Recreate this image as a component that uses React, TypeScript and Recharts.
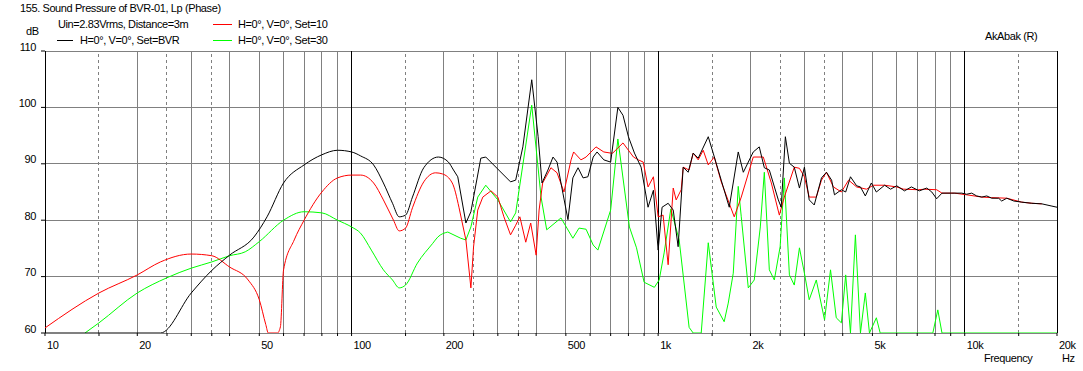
import React from 'react';
import { LineChart, Line, XAxis, YAxis, ReferenceLine } from 'recharts';

// [frequency Hz, level dB]
const bvrPoints: [number, number][] = [
  [10, 60], [23.8, 60], [30, 67.1], [35, 71.1], [40, 73.8], [48, 77], [53, 80.6], [60, 86.6], [70, 89.8],
  [80, 91.6], [90, 92.4], [100, 92.1], [107, 91.4], [118, 89.8], [127, 86.6], [136, 83], [143, 80.6],
  [150, 80.9], [158, 84.1], [172, 89.3], [192, 91.2], [207, 90.3], [215, 88.9], [222, 87.7], [236, 79.5],
  [245, 81.5], [264, 91], [274, 91.2], [330, 86.8], [343, 87.1], [362, 93], [387, 104.9], [406, 94.8],
  [418, 86.6], [437, 88.9], [454, 91.2], [468, 90.3], [489, 84.8], [508, 80.1], [527, 87.5], [548, 89.3],
  [569, 87.5], [590, 87.7], [614, 91.2], [632, 92.1], [665, 90.7], [700, 90.3], [739, 100], [768, 98.6],
  [800, 94.8], [837, 91.9], [880, 89.4], [927, 82.3], [965, 85.3], [1000, 74.7], [1030, 82.3], [1078, 83],
  [1120, 81.8], [1162, 75.3], [1207, 89.4], [1253, 88.5], [1301, 91.9], [1351, 91], [1457, 94.8],
  [1512, 91.9], [1606, 87.1], [1706, 82.3], [1825, 92.1], [1896, 88.5], [2043, 92.1], [2137, 93],
  [2220, 89.3], [2305, 88.9], [2466, 83.6], [2520, 82.3], [2600, 94.8], [2680, 90.1], [2780, 89.4],
  [2890, 85.7], [3000, 89.4], [3110, 83.6], [3230, 82.7], [3410, 87.5], [3540, 88.5], [3680, 87.1],
  [3760, 84.5], [3960, 85.4], [4090, 85], [4240, 87.7], [4440, 86.1], [4570, 85.9], [4740, 84.3],
  [4960, 86.6], [5150, 85], [5480, 86.2], [5730, 85.5], [6000, 86.1], [6360, 85.2], [6700, 85.9],
  [7110, 85.2], [7520, 85.7], [7810, 85], [8100, 83.8], [8430, 84.8], [9070, 84.8], [9780, 84.8],
  [10150, 84.6], [10540, 84.8], [10940, 84.3], [11370, 84.1], [11800, 84.3], [12250, 83.9], [12900, 83.9],
  [13200, 83.4], [13720, 83.9], [14460, 83.4], [15350, 83.2], [16550, 83], [17850, 82.9], [19250, 82.5],
  [20000, 82.3],
];

const set10Points: [number, number][] = [
  [10, 60.9], [15, 67.1], [20, 70.3], [23.8, 72.6], [30, 74], [35, 73.7], [40, 71.7], [46, 69.4], [50, 65.9],
  [52.5, 61.5], [53.5, 60], [57.3, 60], [58.6, 61.1], [60, 71.2], [65, 76.5], [70, 80], [80, 85], [90, 87.5],
  [100, 88], [107, 88], [118, 86.6], [127, 83.6], [137, 80], [143, 78.1], [150, 78.6], [158, 82.2],
  [172, 86.8], [188, 88.4], [198, 88.2], [213, 86.6], [224, 82.3], [236, 76.5], [243, 69.9], [245, 68],
  [250, 75.3], [258, 81.8], [268, 84.1], [285, 85.2], [300, 84.1], [314, 80.6], [330, 77.4], [343, 79.1],
  [354, 80.6], [370, 76.1], [384, 79.5], [400, 73.8], [409, 81.8], [420, 86.6], [447, 89.3], [468, 88.4],
  [493, 85], [520, 90.7], [530, 92.1], [560, 90.7], [582, 91.2], [627, 93], [665, 92.1], [700, 91.9],
  [711, 91.9], [739, 92.8], [768, 93.7], [831, 91.2], [862, 90.7], [894, 90.3], [927, 85.9], [965, 87.7],
  [1000, 80.6], [1038, 80.9], [1078, 72.1], [1120, 85.7], [1145, 83.6], [1189, 85.4], [1207, 89.4],
  [1262, 88.9], [1301, 91.9], [1351, 90.7], [1403, 92.4], [1457, 89.8], [1524, 91.2], [1606, 86.8],
  [1771, 80.6], [1867, 84.1], [2043, 91.2], [2203, 91.2], [2340, 86.6], [2485, 80.9], [2580, 84.1],
  [2780, 89.4], [2890, 89.2], [3000, 87.7], [3110, 84.1], [3280, 84.1], [3410, 87.1], [3540, 88.5],
  [3730, 85.9], [3960, 85], [4180, 87.1], [4440, 85.9], [4780, 85.5], [5040, 86.2], [5480, 86.2],
  [6000, 85.9], [6320, 85.5], [7070, 85.4], [7390, 85.5], [8100, 85.4], [8430, 84.8], [9270, 84.8],
  [10150, 84.5], [11370, 84.1], [12250, 84], [13720, 83.9], [15350, 83.2], [16550, 83], [17850, 82.9],
];

const set30Points: [number, number][] = [
  [13.5, 60], [15, 61.8], [20, 67.1], [25, 69.8], [30, 71.5], [35, 72.6], [40, 73.7], [45, 74.4], [50, 76.2],
  [60, 80], [70, 81.5], [80, 81.3], [90, 80], [100, 78.8], [107, 77.7], [116, 74.7], [127, 71.2], [136, 69.4],
  [143, 68], [150, 68.5], [164, 72.4], [184, 75.9], [191, 77], [206, 77.9], [227, 76.8], [236, 76.5],
  [245, 78.8], [258, 84.1], [274, 86.2], [300, 83.6], [330, 79.7], [343, 81.3], [387, 100.4], [415, 84.1],
  [433, 78.3], [482, 80.4], [527, 76.8], [552, 78.6], [582, 78.4], [614, 75.6], [636, 74.7], [700, 81.8],
  [739, 94.4], [806, 78.8], [850, 75.1], [900, 69], [972, 68.1], [1008, 69.4], [1046, 74.2], [1100, 82],
  [1171, 76.5], [1262, 61], [1301, 60], [1382, 60], [1457, 76], [1547, 64.6], [1642, 62], [1693, 65.3],
  [1758, 70.6], [1825, 86], [1867, 80.6], [1968, 68], [2058, 69.4], [2154, 78.8], [2220, 88.5], [2305, 71.2],
  [2393, 69.4], [2500, 75.3], [2580, 87.5], [2680, 70.3], [2780, 68.5], [2890, 75.1], [3000, 70.6],
  [3110, 65.9], [3280, 69.4], [3490, 62.3], [3650, 71.2], [3810, 62.7], [3960, 61.8], [4090, 70.3],
  [4240, 60], [4400, 77.4], [4570, 60], [4740, 67.1], [4890, 60], [5150, 62.7], [5300, 60], [7870, 60],
  [8170, 64.1], [8430, 60], [20000, 60],
];

const dbTicks = [60, 70, 80, 90, 100, 110];
const freqLabels: Record<number, string> = {
  10: '10', 20: '20', 50: '50', 100: '100', 200: '200', 500: '500',
  1000: '1k', 2000: '2k', 5000: '5k', 10000: '10k', 20000: '20k',
};

const toRows = (pts: [number, number][]) => pts.map(([f, db]) => ({ f, db }));

// smooth below the split, jagged above it (the original measurement is coarse up high)
const SPLIT = 225;
const lowPart = (pts: [number, number][]) => toRows(pts.filter((p) => p[0] <= SPLIT));
const highPart = (pts: [number, number][]) => {
  const i = pts.findIndex((p) => p[0] > SPLIT);
  return toRows(pts.slice(Math.max(0, i - 1)));
};

// grid frequencies
const decadeLines = [10, 100, 1000, 10000, 20000];
const solidLines: number[] = [];
const dashedLines: number[] = [];
[10, 100, 1000].forEach((d) => {
  [2, 3, 4, 5, 6, 7, 8, 9].forEach((m) => solidLines.push(d * m));
  [1.5, 2.5, 3.5].forEach((m) => dashedLines.push(d * m));
});
dashedLines.push(15000);
const allTicks = [...decadeLines, ...solidLines, ...dashedLines].sort((a, b) => a - b);

const series = [
  { name: 'set30', pts: set30Points, color: '#00ff00' },
  { name: 'set10', pts: set10Points, color: '#ff0000' },
  { name: 'bvr', pts: bvrPoints, color: '#000000' },
];

const FONT = '"Liberation Sans", Arial, sans-serif';
const txt: React.CSSProperties = {
  position: 'absolute', fontFamily: FONT, fontSize: 11, lineHeight: '13px',
  letterSpacing: '-0.4px', color: '#000', whiteSpace: 'nowrap',
};

const XTick = (props: any) => {
  const { x, payload } = props;
  const label = freqLabels[payload.value];
  if (!label) return null;
  return (
    <text x={x + 2} y={349} textAnchor="start" fontFamily={FONT} fontSize={11} letterSpacing="-0.4" fill="#000">
      {label}
    </text>
  );
};

const YTick = (props: any) => {
  const { y, payload } = props;
  return (
    <text x={36} y={y - 0.5} textAnchor="end" fontFamily={FONT} fontSize={11} letterSpacing="-0.4" fill="#000">
      {payload.value}
    </text>
  );
};

export default function App() {
  return (
    <div style={{ position: 'absolute', left: 0, top: 0, width: 1083, height: 371, background: '#fff' }}>
      <div style={{ ...txt, left: 20, top: 2 }}>155. Sound Pressure of BVR-01, Lp (Phase)</div>
      <div style={{ ...txt, left: 58, top: 18 }}>Uin=2.83Vrms, Distance=3m</div>
      <div style={{ position: 'absolute', left: 213, top: 24, width: 19, height: 1, background: '#ff0000' }} />
      <div style={{ ...txt, left: 238, top: 18 }}>H=0°, V=0°, Set=10</div>
      <div style={{ position: 'absolute', left: 57, top: 40, width: 16, height: 1, background: '#000' }} />
      <div style={{ ...txt, left: 80, top: 34 }}>H=0°, V=0°, Set=BVR</div>
      <div style={{ position: 'absolute', left: 213, top: 40, width: 19, height: 1, background: '#00ff00' }} />
      <div style={{ ...txt, left: 238, top: 34 }}>H=0°, V=0°, Set=30</div>
      <div style={{ ...txt, left: 26, top: 25 }}>dB</div>
      <div style={{ ...txt, left: 985, top: 30 }}>AkAbak (R)</div>
      <div style={{ ...txt, left: 984, top: 352 }}>Frequency</div>
      <div style={{ ...txt, left: 1062, top: 352 }}>Hz</div>

      <LineChart
        width={1083}
        height={371}
        margin={{ top: 51, right: 26, bottom: 0, left: 0 }}
        style={{ position: 'absolute', left: 0, top: 0 }}
      >
        <XAxis
          dataKey="f"
          type="number"
          scale="log"
          domain={[10, 20000]}
          ticks={allTicks}
          interval={0}
          height={38}
          axisLine={false}
          tickLine={{ stroke: '#000' }}
          tickSize={3}
          tick={<XTick />}
          allowDataOverflow
        />
        <YAxis
          dataKey="db"
          type="number"
          domain={[60, 110]}
          ticks={dbTicks}
          interval={0}
          width={45}
          axisLine={false}
          tickLine={{ stroke: '#000' }}
          tickSize={4}
          tick={<YTick />}
          allowDataOverflow
        />
        {dbTicks.map((v) => (
          <ReferenceLine key={'h' + v} y={v} stroke="#808080" strokeWidth={1} shapeRendering="crispEdges" />
        ))}
        {solidLines.map((v) => (
          <ReferenceLine key={'s' + v} x={v} stroke="#808080" strokeWidth={1} shapeRendering="crispEdges" />
        ))}
        {dashedLines.map((v) => (
          <ReferenceLine key={'d' + v} x={v} stroke="#808080" strokeDasharray="3 3" strokeWidth={1} shapeRendering="crispEdges" />
        ))}
        {decadeLines.map((v) => (
          <ReferenceLine key={'k' + v} x={v} stroke="#000" strokeWidth={1} shapeRendering="crispEdges" />
        ))}
        {series.flatMap((s) => [
          <Line key={s.name + '-lo'} data={lowPart(s.pts)} dataKey="db" stroke={s.color} strokeWidth={1}
            dot={false} activeDot={false} isAnimationActive={false} type="monotone" />,
          <Line key={s.name + '-hi'} data={highPart(s.pts)} dataKey="db" stroke={s.color} strokeWidth={1}
            dot={false} activeDot={false} isAnimationActive={false} type="linear" />,
        ])}
      </LineChart>
    </div>
  );
}
